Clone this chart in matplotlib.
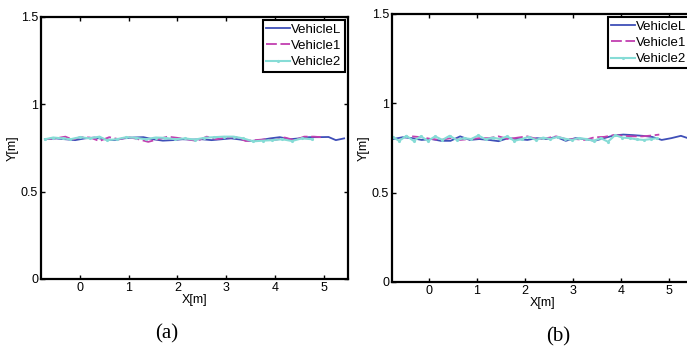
import matplotlib.pyplot as plt

plt.rcParams['font.family'] = ['Liberation Sans', 'DejaVu Sans']

# (a) 데이터
xa_L = [-0.72, -0.5, -0.3, -0.1, 0.1, 0.3, 0.5, 0.7, 0.9, 1.1, 1.3, 1.5, 1.7, 1.9, 2.1, 2.3,
        2.5, 2.7, 2.9, 3.1, 3.3, 3.5, 3.7, 3.9, 4.1, 4.3, 4.5, 4.7, 4.9, 5.1, 5.25, 5.42]
ya_L = [0.800, 0.805, 0.800, 0.795, 0.805, 0.810, 0.800, 0.795, 0.805, 0.810, 0.812, 0.800, 0.792,
        0.795, 0.800, 0.798, 0.800, 0.795, 0.800, 0.805, 0.798, 0.790, 0.795, 0.805, 0.812, 0.800,
        0.805, 0.812, 0.812, 0.813, 0.795, 0.805]
xa_1 = [-0.72, -0.5, -0.3, -0.15, 0.0, 0.2, 0.4, 0.6, 0.8, 1.0, 1.2, 1.4, 1.6, 1.8, 2.0, 2.2,
        2.4, 2.6, 2.8, 3.0, 3.2, 3.4, 3.6, 3.8, 4.0, 4.2, 4.4, 4.6, 4.8, 4.94]
ya_1 = [0.800, 0.805, 0.815, 0.798, 0.812, 0.810, 0.790, 0.812, 0.800, 0.812, 0.800, 0.785, 0.800,
        0.815, 0.808, 0.800, 0.790, 0.815, 0.800, 0.810, 0.812, 0.790, 0.795, 0.800, 0.795, 0.810,
        0.795, 0.815, 0.815, 0.812]
xa_2 = [-0.72, -0.55, -0.35, -0.2, 0.0, 0.2, 0.4, 0.55, 0.75, 0.95, 1.15, 1.35, 1.55, 1.75, 1.95,
        2.15, 2.35, 2.55, 2.75, 2.95, 3.15, 3.35, 3.55, 3.75, 3.95, 4.15, 4.35, 4.55, 4.77]
ya_2 = [0.800, 0.810, 0.805, 0.800, 0.812, 0.805, 0.815, 0.795, 0.800, 0.812, 0.808, 0.800, 0.810,
        0.808, 0.800, 0.805, 0.798, 0.808, 0.812, 0.815, 0.815, 0.805, 0.788, 0.792, 0.795, 0.800,
        0.790, 0.805, 0.800]

# (b) 데이터
xb_L = [-0.75, -0.55, -0.35, -0.15, 0.05, 0.25, 0.45, 0.65, 0.85, 1.05, 1.25, 1.45, 1.65, 1.85,
        2.05, 2.25, 2.45, 2.65, 2.85, 3.05, 3.25, 3.45, 3.65, 3.85, 4.05, 4.25, 4.45, 4.65, 4.85,
        5.05, 5.25, 5.45, 5.6]
yb_L = [0.800, 0.810, 0.805, 0.795, 0.800, 0.790, 0.790, 0.815, 0.795, 0.800, 0.795, 0.788, 0.805,
        0.800, 0.795, 0.805, 0.800, 0.812, 0.790, 0.805, 0.800, 0.790, 0.805, 0.820, 0.825, 0.822,
        0.818, 0.812, 0.795, 0.805, 0.818, 0.800, 0.795]
xb_1 = [-0.35, -0.15, 0.05, 0.25, 0.45, 0.65, 0.85, 1.05, 1.25, 1.45, 1.65, 1.85, 2.05, 2.25,
        2.45, 2.65, 2.85, 3.05, 3.25, 3.45, 3.65, 3.85, 4.05, 4.25, 4.45, 4.65, 4.8]
yb_1 = [0.815, 0.810, 0.800, 0.795, 0.805, 0.795, 0.800, 0.805, 0.805, 0.815, 0.800, 0.808, 0.815,
        0.800, 0.805, 0.815, 0.800, 0.800, 0.795, 0.810, 0.812, 0.822, 0.818, 0.815, 0.815, 0.820,
        0.825]
xb_2 = [-0.75, -0.62, -0.47, -0.32, -0.17, -0.02, 0.13, 0.28, 0.43, 0.58, 0.73, 0.88, 1.03, 1.18,
        1.33, 1.48, 1.63, 1.78, 1.93, 2.08, 2.23, 2.38, 2.53, 2.68, 2.83, 2.98, 3.13, 3.28, 3.43,
        3.58, 3.73, 3.88, 4.03, 4.18, 4.33, 4.48, 4.63, 4.75]
yb_2 = [0.810, 0.790, 0.818, 0.790, 0.815, 0.790, 0.815, 0.795, 0.818, 0.795, 0.805, 0.800, 0.820,
        0.798, 0.808, 0.800, 0.815, 0.790, 0.800, 0.812, 0.795, 0.808, 0.800, 0.812, 0.802, 0.795,
        0.805, 0.800, 0.790, 0.805, 0.785, 0.822, 0.808, 0.805, 0.798, 0.795, 0.800, 0.805]

blue = '#3f4fb8'
magenta = '#c23fb0'
cyan = '#86dcd6'

fig = plt.figure(figsize=(6.87, 3.49), dpi=100)
ax_a = fig.add_axes([0.0597, 0.2006, 0.4469, 0.7507])
ax_b = fig.add_axes([0.5706, 0.192, 0.438, 0.768])

panels = [(ax_a, xa_L, ya_L, xa_1, ya_1, xa_2, ya_2, (-0.8, 5.5), '(a)'),
          (ax_b, xb_L, yb_L, xb_1, yb_1, xb_2, yb_2, (-0.77, 5.5), '(b)')]

for ax, xL, yL, x1, y1, x2, y2, xlim, tag in panels:
    ax.plot(xL, yL, color=blue, lw=1.3, label='VehicleL')
    ax.plot(x1, y1, color=magenta, lw=1.3, linestyle=(0, (6, 2)), label='Vehicle1')
    ax.plot(x2, y2, color=cyan, lw=1.5, marker='.', markersize=2.5, label='Vehicle2')
    ax.set_xlim(*xlim)
    ax.set_ylim(0, 1.5)
    ax.set_xticks([0, 1, 2, 3, 4, 5])
    ax.set_yticks([0, 0.5, 1, 1.5])
    ax.set_yticklabels(['0', '0.5', '1', '1.5'])
    ax.tick_params(direction='in', top=True, right=True, length=3, width=1,
                   labelsize=9, pad=2)
    for s in ax.spines.values():
        s.set_linewidth(1.6)
    ax.set_xlabel('X[m]', fontsize=9, labelpad=0)
    ax.set_ylabel('Y[m]', fontsize=9, labelpad=2)
    leg = ax.legend(loc='upper right', fontsize=9.5, handlelength=1.8, handletextpad=0.1,
                    labelspacing=0.3, borderpad=0.25, borderaxespad=0.25,
                    fancybox=False, framealpha=1)
    leg.get_frame().set_edgecolor('black')
    leg.get_frame().set_linewidth(1.5)

fig.text(167 / 687, 1 - 334 / 349, '(a)', ha='center', va='center',
         family='Liberation Serif', fontsize=15)
fig.text(558 / 687, 1 - 337 / 349, '(b)', ha='center', va='center',
         family='Liberation Serif', fontsize=15)

fig.savefig('out.png', dpi=100)
